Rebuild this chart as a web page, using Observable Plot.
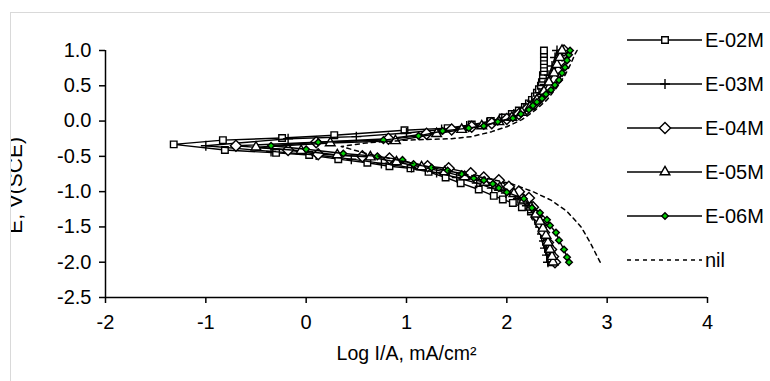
<!DOCTYPE html>
<html>
<head>
<meta charset="utf-8">
<script src="https://cdn.jsdelivr.net/npm/d3@7"></script>
<script src="https://cdn.jsdelivr.net/npm/@observablehq/plot@0.6"></script>
<style>
  html, body { margin: 0; padding: 0; background: #fff; }
  #wrap { position: relative; width: 770px; height: 381px; overflow: hidden; background: #fff; font-family: "Liberation Sans", Arial, sans-serif; }
  #wrap svg { position: absolute; left: 0; top: 0; }
  #cover { position: absolute; left: 0; top: 0; width: 10px; height: 381px; background: #fff; }
  #frame { position: absolute; left: 10px; top: 12px; width: 800px; height: 400px; border: 1px solid #d9d9d9; }
</style>
</head>
<body>
<div id="wrap"></div>
<script>
// ---- data (log I/A in mA/cm², potential E in V vs SCE) ----
const seriesNames = ["E-02M", "E-03M", "E-04M", "E-05M", "E-06M", "nil"];
const xTicks = [-2, -1, 0, 1, 2, 3, 4];
const yTicks = [-2.5, -2.0, -1.5, -1.0, -0.5, 0.0, 0.5, 1.0];
const xLabel = "Log I/A, mA/cm²";
const yLabel = "E, V(SCE)";

const e02M_logI = [2.44,2.43,2.43,2.42,2.41,2.40,2.39,2.38,2.37,2.36,2.35,2.33,2.31,2.28,2.24,2.15,2.06,1.96,1.87,1.72,1.54,1.39,1.22,1.04,0.83,0.61,0.32,0.03,-0.30,-0.81,-1.32,
  -0.83,-0.24,0.28,0.98,1.41,1.65,1.84,1.96,2.05,2.12,2.18,2.22,2.25,2.28,2.30,2.32,2.34,2.35,2.36,2.36,2.37,2.37,2.37,2.37,2.37,2.37,2.37];
const e02M_E = [-2.00,-1.95,-1.90,-1.85,-1.80,-1.75,-1.70,-1.65,-1.60,-1.55,-1.50,-1.45,-1.40,-1.34,-1.28,-1.22,-1.16,-1.11,-1.06,-0.97,-0.88,-0.80,-0.72,-0.67,-0.64,-0.59,-0.54,-0.48,-0.45,-0.41,-0.33,
  -0.27,-0.24,-0.20,-0.13,-0.10,-0.05,0.00,0.05,0.10,0.15,0.20,0.25,0.30,0.35,0.40,0.45,0.50,0.55,0.60,0.65,0.70,0.75,0.80,0.85,0.90,0.95,1.00];

const e03M_logI = [2.41,2.40,2.38,2.37,2.35,2.33,2.30,2.26,2.20,2.11,1.99,1.85,1.70,1.50,1.30,1.05,0.75,0.45,0.10,-0.35,-1.00,
  -0.18,0.50,1.00,1.35,1.60,1.80,1.95,2.07,2.17,2.25,2.32,2.38,2.42,2.45,2.48,2.50];
const e03M_E = [-2.00,-1.90,-1.80,-1.70,-1.60,-1.50,-1.40,-1.30,-1.20,-1.10,-1.02,-0.95,-0.88,-0.80,-0.73,-0.66,-0.60,-0.54,-0.48,-0.43,-0.35,
  -0.25,-0.22,-0.17,-0.12,-0.07,-0.02,0.04,0.10,0.18,0.28,0.40,0.52,0.65,0.78,0.90,1.00];

const e04M_logI = [2.48,2.46,2.44,2.41,2.37,2.34,2.30,2.26,2.22,2.12,2.02,1.92,1.77,1.64,1.42,1.21,0.83,0.56,0.12,-0.18,-0.70,
  0.10,0.82,1.20,1.45,1.65,1.85,2.00,2.12,2.20,2.28,2.35,2.42,2.47,2.50,2.53,2.55,2.57];
const e04M_E = [-2.00,-1.92,-1.82,-1.72,-1.58,-1.47,-1.35,-1.22,-1.09,-1.00,-0.93,-0.84,-0.80,-0.74,-0.67,-0.64,-0.53,-0.50,-0.47,-0.41,-0.35,
  -0.30,-0.25,-0.18,-0.12,-0.08,-0.03,0.03,0.10,0.17,0.25,0.35,0.48,0.60,0.72,0.84,0.93,1.00];

const e05M_logI = [2.46,2.45,2.43,2.41,2.39,2.36,2.33,2.29,2.24,2.17,2.07,1.93,1.78,1.58,1.38,1.15,0.90,0.64,0.31,-0.05,-0.50,
  0.24,0.89,1.30,1.55,1.75,1.92,2.05,2.15,2.23,2.30,2.37,2.42,2.47,2.50,2.53,2.55];
const e05M_E = [-2.00,-1.92,-1.82,-1.72,-1.62,-1.52,-1.42,-1.32,-1.22,-1.12,-1.03,-0.94,-0.87,-0.79,-0.72,-0.65,-0.58,-0.51,-0.48,-0.42,-0.37,
  -0.31,-0.28,-0.18,-0.12,-0.07,-0.01,0.05,0.12,0.20,0.30,0.42,0.55,0.68,0.80,0.90,1.00];

const e06M_logI = [2.62,2.60,2.57,2.52,2.49,2.43,2.40,2.33,2.25,2.17,2.00,1.92,1.86,1.77,1.67,1.55,1.41,1.25,1.07,0.96,0.71,0.37,0.00,-0.35,
  0.12,0.77,1.12,1.36,1.62,1.77,1.91,2.06,2.14,2.22,2.26,2.30,2.35,2.39,2.44,2.48,2.52,2.55,2.58,2.60,2.62,2.63];
const e06M_E = [-2.00,-1.93,-1.82,-1.69,-1.58,-1.48,-1.40,-1.30,-1.23,-1.10,-1.01,-0.95,-0.89,-0.84,-0.81,-0.75,-0.70,-0.66,-0.61,-0.55,-0.50,-0.46,-0.40,-0.35,
  -0.30,-0.27,-0.21,-0.14,-0.10,-0.07,-0.01,0.04,0.10,0.16,0.22,0.27,0.32,0.38,0.44,0.51,0.58,0.68,0.76,0.86,0.94,1.00];

const nil_logI = [2.93,2.83,2.74,2.60,2.44,2.26,2.05,1.80,1.50,1.20,0.90,0.60,0.35,
  0.60,1.00,1.45,1.65,1.85,2.00,2.15,2.28,2.40,2.50,2.58,2.64,2.68,2.70];
const nil_E = [-2.00,-1.72,-1.50,-1.28,-1.12,-1.00,-0.89,-0.81,-0.73,-0.64,-0.55,-0.46,-0.36,
  -0.31,-0.27,-0.25,-0.22,-0.15,-0.08,0.02,0.15,0.30,0.48,0.65,0.82,0.95,1.00];

// ---- styles ----
const styles = {
  "E-02M": {symbol: "square",   r: 3.7, fill: "white"},
  "E-03M": {symbol: "plus",     r: 3.3, fill: "none"},
  "E-04M": {symbol: "diamond2", r: 5.0, fill: "white"},
  "E-05M": {symbol: "triangle", r: 3.6, fill: "white"},
  "E-06M": {symbol: "diamond2", r: 3.0, fill: "#00d000"},
  "nil":   {symbol: null}
};
const xs = [e02M_logI, e03M_logI, e04M_logI, e05M_logI, e06M_logI, nil_logI];
const ys = [e02M_E, e03M_E, e04M_E, e05M_E, e06M_E, nil_E];

const data = seriesNames.map((name, k) => xs[k].map((x, i) => ({s: name, x, y: ys[k][i]})));

const marks = [
  Plot.ruleX([-2], {stroke: "black", strokeWidth: 1.5}),
  Plot.ruleY([-2.5], {stroke: "black", strokeWidth: 1.5}),
  Plot.axisX({ticks: xTicks, tickSize: 6, tickPadding: 11, tickFormat: d => String(d), label: null, strokeWidth: 1.5}),
  Plot.axisY({ticks: yTicks, tickSize: 6, tickPadding: 8, tickFormat: d => d.toFixed(1), label: null, strokeWidth: 1.5}),
  Plot.text([xLabel], {frameAnchor: "bottom", dy: 62, text: d => d, fontSize: 19.5})
];
seriesNames.forEach((name, k) => {
  const st = styles[name];
  if (name === "nil") {
    marks.push(Plot.line(data[k], {x: "x", y: "y", stroke: "black", strokeWidth: 1.5, strokeDasharray: "4,4"}));
  } else {
    marks.push(Plot.line(data[k], {x: "x", y: "y", stroke: "black", strokeWidth: 1.4}));
    marks.push(Plot.dot(data[k], {x: "x", y: "y", symbol: st.symbol, r: st.r, fill: st.fill, stroke: "black", strokeWidth: 1.4}));
  }
});

const chart = Plot.plot({
  width: 770,
  height: 381,
  marginLeft: 105,
  marginRight: 63,
  marginTop: 50,
  marginBottom: 84,
  style: {fontFamily: "'Liberation Sans', Arial, sans-serif", fontSize: "20px", color: "black", background: "transparent", overflow: "visible"},
  x: {domain: [-2, 4], axis: null},
  y: {domain: [-2.5, 1.0], axis: null},
  marks
});

const wrap = document.getElementById("wrap");
wrap.appendChild(chart);

// y-axis title (partly clipped at left, as in the reference)
const svg = d3.select(chart);
svg.append("text")
  .attr("transform", "translate(22,137) rotate(-90)")
  .attr("text-anchor", "end")
  .attr("font-size", 21)
  .attr("fill", "black")
  .text(yLabel);

// legend
const lg = svg.append("g").attr("text-anchor", "start");
const typeMap = {square: d3.symbolSquare, plus: d3.symbolPlus, diamond2: d3.symbolDiamond2, triangle: d3.symbolTriangle};
seriesNames.forEach((name, i) => {
  const y = 40 + 44 * i;
  const st = styles[name];
  const g = lg.append("g").attr("transform", `translate(0,${y})`);
  g.append("line").attr("x1", 627).attr("x2", 702).attr("y1", 0).attr("y2", 0)
    .attr("stroke", "black").attr("stroke-width", 1.5)
    .attr("stroke-dasharray", name === "nil" ? "4,4" : null);
  if (st.symbol) {
    g.append("path")
      .attr("d", d3.symbol(typeMap[st.symbol], Math.PI * st.r * st.r)())
      .attr("transform", "translate(665,0)")
      .attr("fill", st.fill).attr("stroke", "black").attr("stroke-width", 1.4);
  }
  g.append("text").attr("x", 705).attr("y", 0).attr("dy", "0.35em")
    .attr("text-anchor", "start")
    .attr("font-size", 20).attr("fill", "black").text(name);
});

const cover = document.createElement("div"); cover.id = "cover"; wrap.appendChild(cover);
const frame = document.createElement("div"); frame.id = "frame"; wrap.appendChild(frame);
</script>
</body>
</html>
